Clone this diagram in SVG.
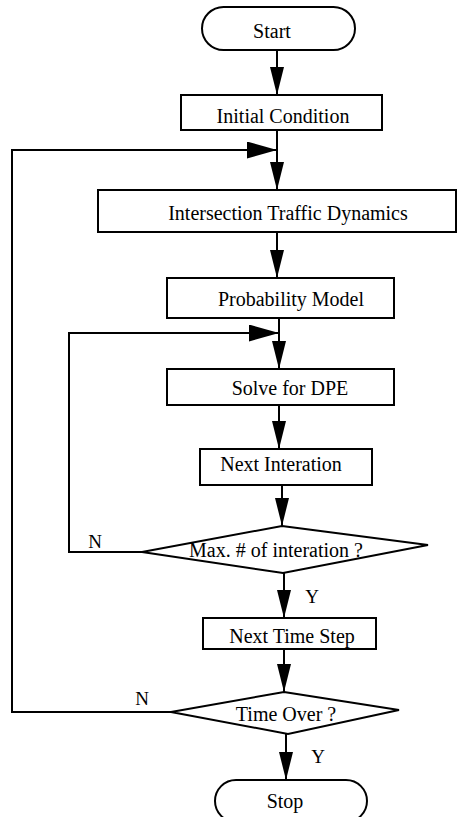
<svg xmlns="http://www.w3.org/2000/svg" width="457" height="817" viewBox="0 0 457 817">
<style>
.box{fill:#fff;stroke:#000;stroke-width:2}
.conn{fill:none;stroke:#000;stroke-width:2}
text{font-family:"Liberation Serif","Times New Roman",serif;font-size:20px;fill:#000;text-anchor:middle}
.lbl{font-size:19px}
</style>
<defs>
<marker id="av" markerUnits="userSpaceOnUse" markerWidth="28" markerHeight="14" refX="28" refY="7" orient="auto">
<path d="M0,0 L28,7 L0,14 z" fill="#000"/>
</marker>
<marker id="ah" markerUnits="userSpaceOnUse" markerWidth="30" markerHeight="17" refX="30" refY="8.5" orient="auto">
<path d="M0,0 L30,8.5 L0,17 z" fill="#000"/>
</marker>
</defs>
<rect width="457" height="817" fill="#fff"/>
<g id="connectors">
<line class="conn" x1="277" y1="50" x2="277" y2="95" marker-end="url(#av)"/>
<line class="conn" x1="277" y1="130" x2="277" y2="190" marker-end="url(#av)"/>
<line class="conn" x1="277" y1="232" x2="277" y2="278" marker-end="url(#av)"/>
<line class="conn" x1="279" y1="318" x2="279" y2="369" marker-end="url(#av)"/>
<line class="conn" x1="279" y1="405" x2="279" y2="449" marker-end="url(#av)"/>
<line class="conn" x1="282" y1="485" x2="282" y2="526" marker-end="url(#av)"/>
<line class="conn" x1="284" y1="573" x2="284" y2="618" marker-end="url(#av)"/>
<line class="conn" x1="284" y1="649" x2="284" y2="692" marker-end="url(#av)"/>
<line class="conn" x1="286" y1="734" x2="286" y2="780" marker-end="url(#av)"/>
<polyline class="conn" points="142,552 69,552 69,333 279,333" marker-end="url(#ah)"/>
<polyline class="conn" points="171,712 12,712 12,150 277,150" marker-end="url(#ah)"/>
<text class="lbl" x="95" y="548">N</text>
<text class="lbl" x="312" y="603">Y</text>
<text class="lbl" x="142" y="705">N</text>
<text class="lbl" x="318" y="763">Y</text>
</g>
<g id="start">
<rect class="box" x="202" y="7" width="153" height="43" rx="21.5" ry="21.5"/>
<text x="272" y="38">Start</text>
</g>
<g id="initial">
<rect class="box" x="181" y="95" width="201" height="35"/>
<text x="283" y="123">Initial Condition</text>
</g>
<g id="intersection">
<rect class="box" x="98" y="190" width="358" height="42"/>
<text x="288" y="220">Intersection Traffic Dynamics</text>
</g>
<g id="probability">
<rect class="box" x="167" y="278" width="227" height="40"/>
<text x="291" y="306">Probability Model</text>
</g>
<g id="solve">
<rect class="box" x="167" y="369" width="227" height="36"/>
<text x="290" y="395">Solve for DPE</text>
</g>
<g id="next-iteration">
<rect class="box" x="200" y="449" width="172" height="36"/>
<text x="281" y="471">Next Interation</text>
</g>
<g id="max-iteration">
<polygon class="box" points="282,526 428,545 283,573 142,552"/>
<text x="276" y="557">Max. # of interation ?</text>
</g>
<g id="next-time-step">
<rect class="box" x="203" y="618" width="173" height="31"/>
<text x="292" y="643">Next Time Step</text>
</g>
<g id="time-over">
<polygon class="box" points="284,692 399,710 288,734 171,712"/>
<text x="286" y="721">Time Over ?</text>
</g>
<g id="stop">
<rect class="box" x="215" y="780" width="152" height="42" rx="21" ry="21"/>
<text x="285" y="808">Stop</text>
</g>
</svg>
